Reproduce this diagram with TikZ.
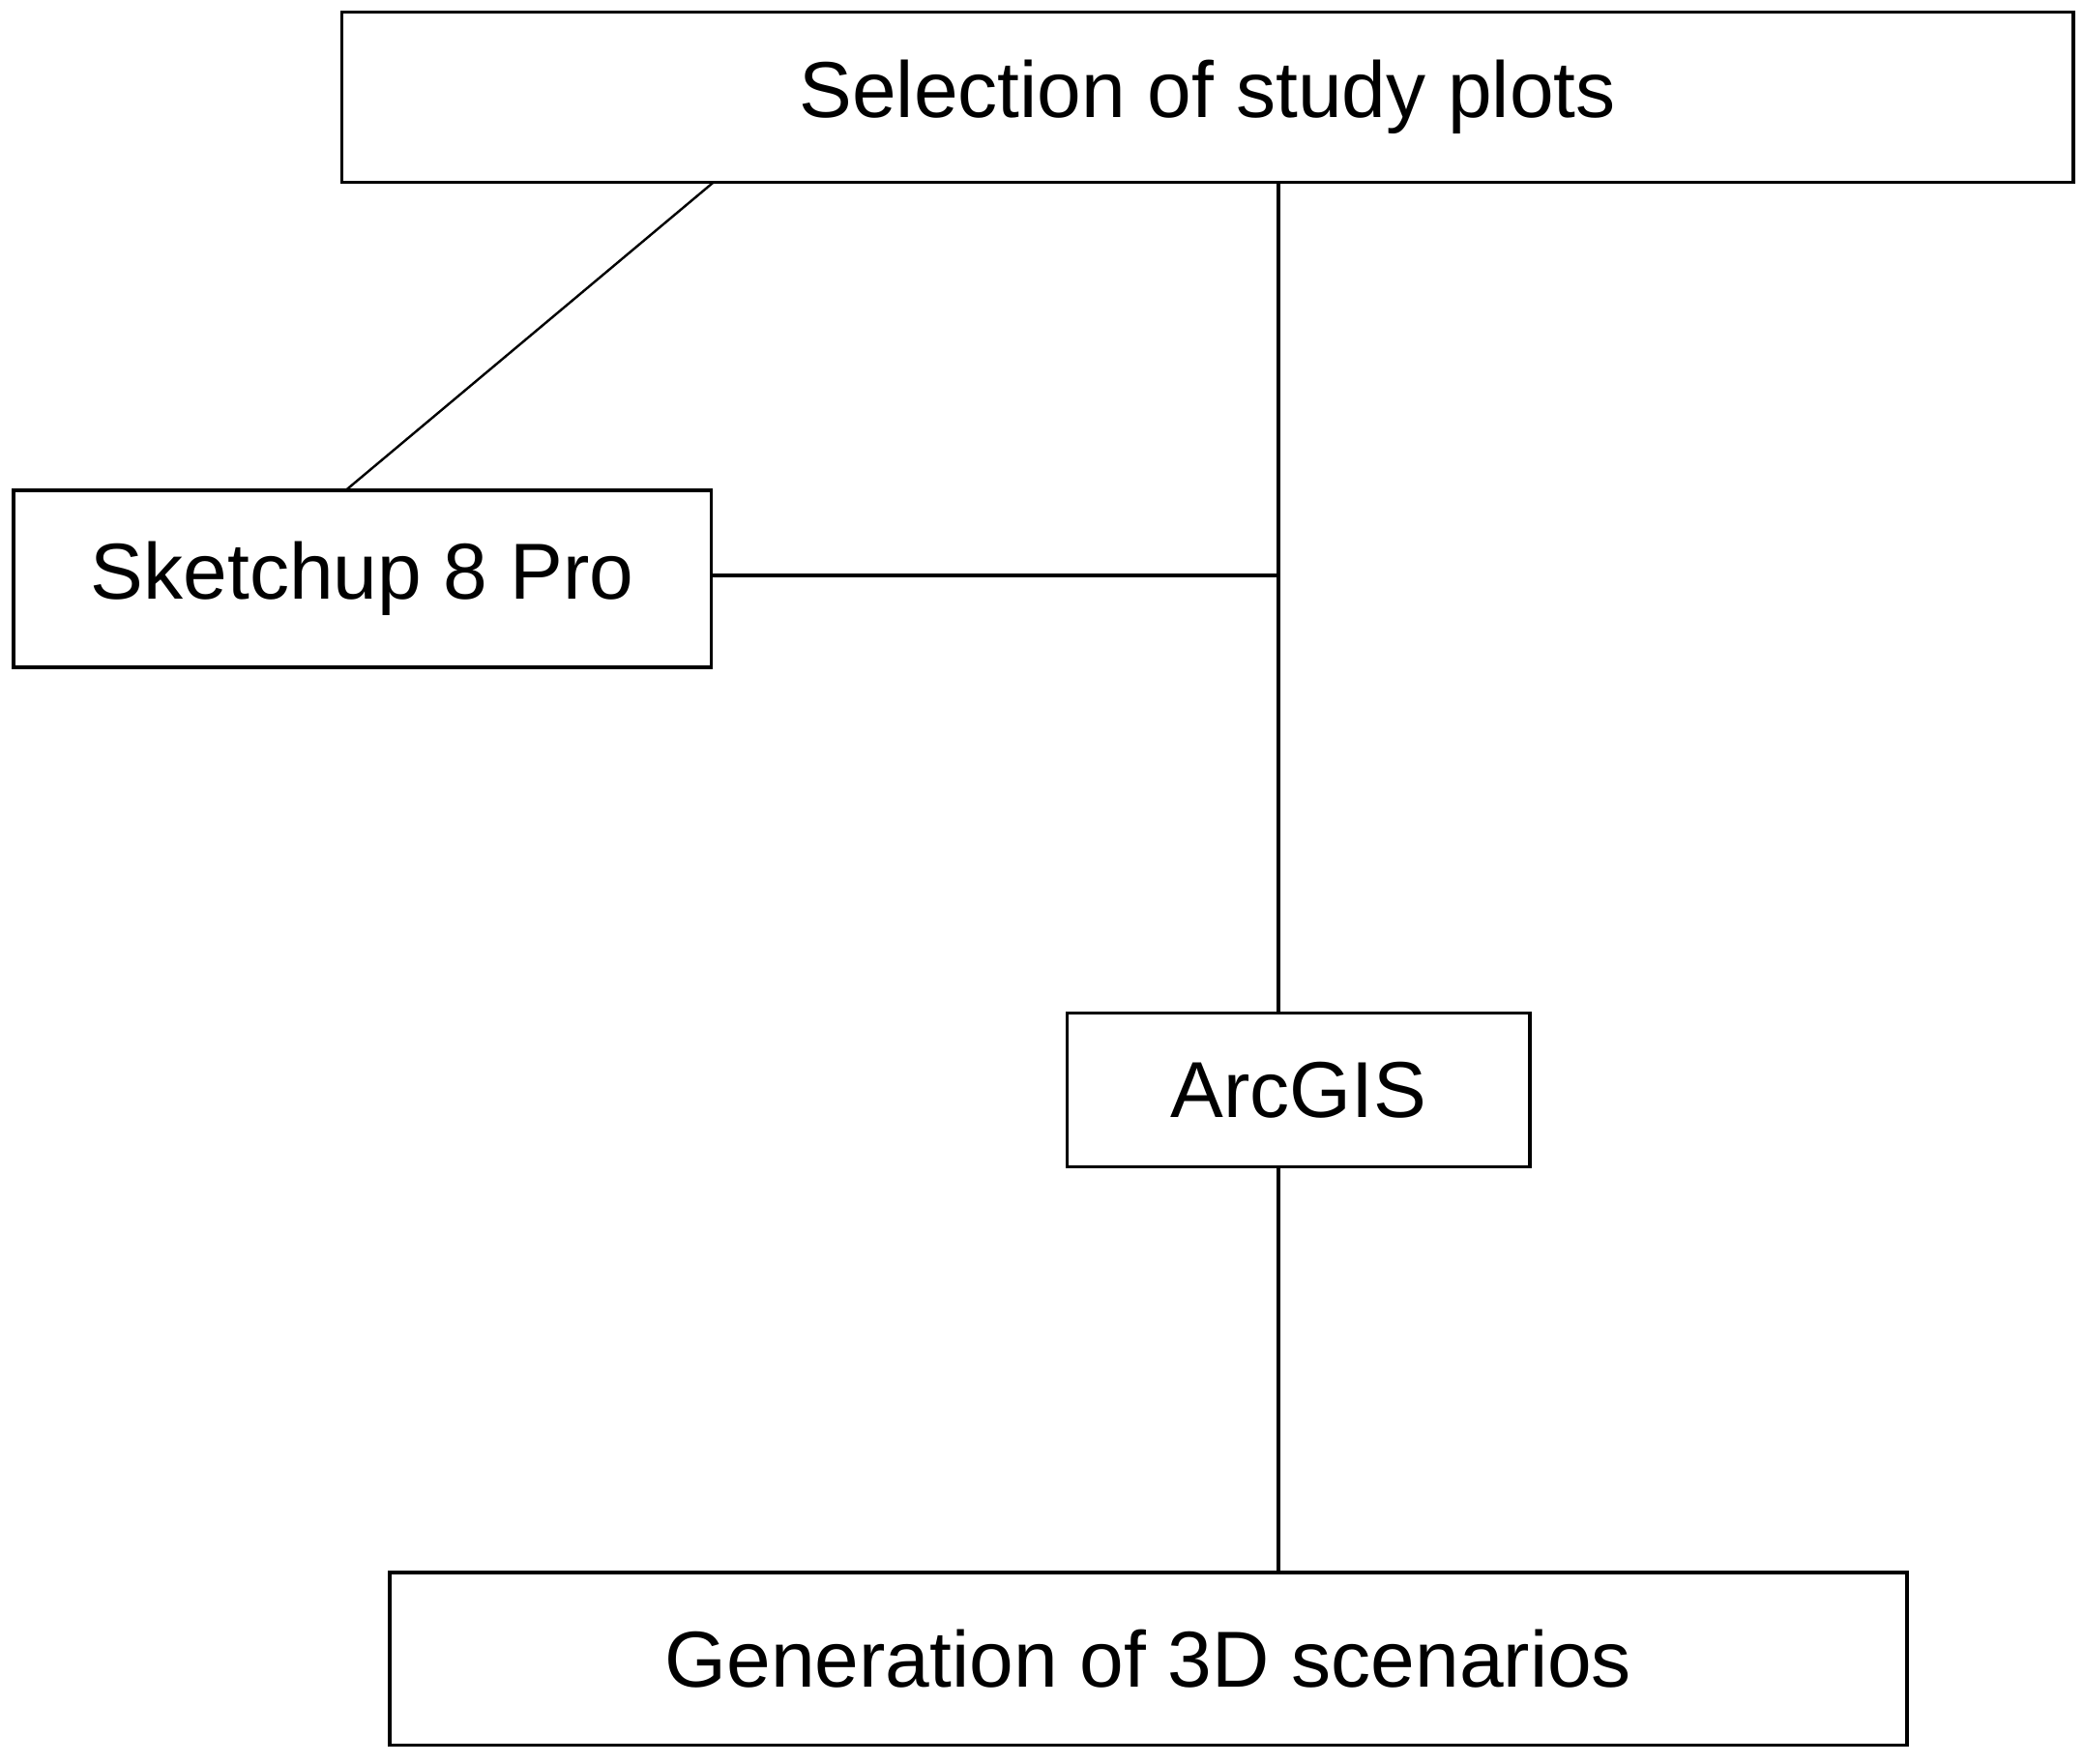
\documentclass[tikz,border=0pt]{standalone}
\usepackage{fontspec}
\setmainfont{Liberation Sans}
\begin{document}
\begin{tikzpicture}[x=0.02cm,y=-0.02cm,
  box/.style={draw,line width=1.4pt,inner sep=0pt,font=\fontsize{34}{40}\selectfont},
  con/.style={line width=1.4pt}]
\useasboundingbox (0,0) rectangle (1568,1327);
\node[box,minimum width=26.06cm,minimum height=2.56cm] (sel) at (908.5,73) {Selection of study plots};
\node[box,minimum width=10.5cm,minimum height=2.66cm] (sk) at (272.5,435.5) {Sketchup 8 Pro};
\node[box,minimum width=6.96cm,minimum height=2.32cm] (arc) at (977,820) {ArcGIS};
\node[box,minimum width=22.84cm,minimum height=2.6cm] (gen) at (864,1248) {Generation of 3D scenarios};
\coordinate (j) at (962,433);
\draw[con,line width=1pt] (537,137) -- (260,369);
\draw[con] (962,137) -- (962,762);
\draw[con] (sk.east |- j) -- (j);
\draw[con] (962,878) -- (962,1183);
\end{tikzpicture}
\end{document}
